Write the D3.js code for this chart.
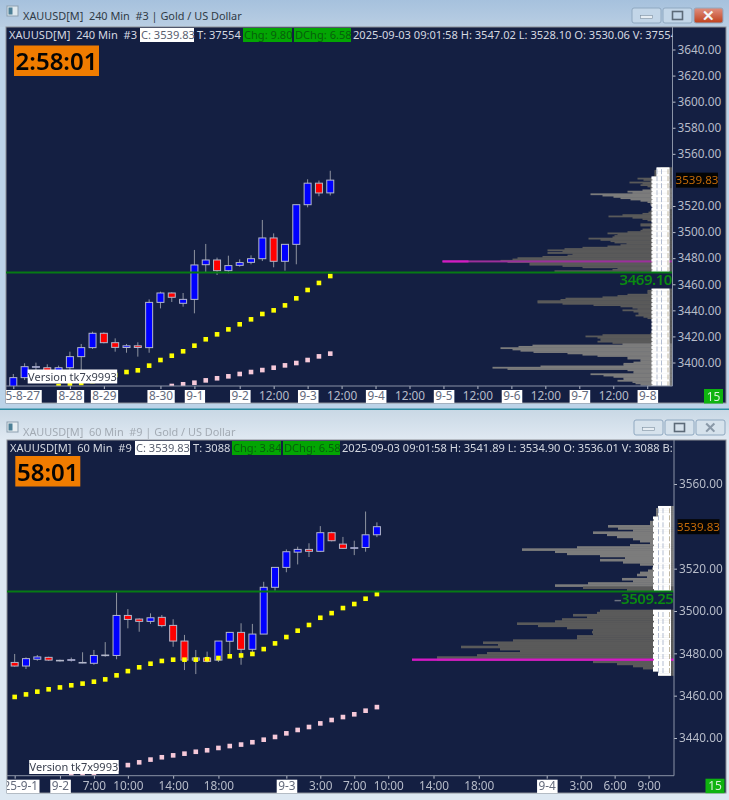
<!DOCTYPE html>
<html>
<head>
<meta charset="utf-8">
<script src="https://cdnjs.cloudflare.com/ajax/libs/d3/7.8.5/d3.min.js"></script>
<style>
html, body { margin: 0; padding: 0; background: #dde8f2; overflow: hidden; }
svg { display: block; filter: blur(0.4px); }
text { font-family: "Noto Sans", sans-serif; }
</style>
</head>
<body>
<svg id="chart" width="729" height="800"></svg>
<script>
// 240 min pane
var topOpen  = [3376,3388.4,3396.6,3396,3390,3396,3404.5,3411.4,3422.4,3415.2,3411.5,3412.8,3411.4,3446.1,3453.3,3445.4,3448.4,3475,3478.6,3470.4,3474.5,3476.8,3479.6,3495.5,3477.6,3490.6,3521,3537.5,3530.06];
var topHigh  = [3391.2,3399.4,3399.9,3398.6,3397.6,3408.3,3414.2,3423.6,3423.1,3418.5,3414.2,3415.5,3448.4,3454.3,3453.8,3453.3,3486.3,3490.9,3480.4,3481.9,3479.1,3482.2,3509.3,3499,3490.6,3521,3540.5,3539.5,3547.02];
var topLow   = [3372,3386.6,3393.7,3392,3388,3388,3394,3410.4,3414.7,3408.3,3407.5,3404.5,3407.5,3441.5,3446.4,3442.8,3437.7,3468.9,3467.1,3468.4,3473.5,3475.3,3477.8,3473,3470.4,3475.3,3519,3527.5,3528.1];
var topClose = [3388.4,3396.8,3396.8,3393,3396,3404.5,3411.4,3422.4,3415.2,3411.6,3412.8,3411.5,3446.1,3453.3,3450,3448.4,3474.8,3478.6,3470.4,3474.3,3476.6,3479.6,3495.5,3477.6,3490.6,3521,3537.5,3530,3539.83];

var topYellowIdx = d3.range(4, 29);
var topYellow = [3382,3383.3,3384.3,3385.8,3388.4,3390.4,3392.7,3394,3397.6,3401.9,3405.2,3408.6,3412.9,3417.8,3421.6,3425.4,3429.3,3433.1,3437.2,3440,3443.8,3449.2,3455.6,3461,3466.3];
var topPinkIdx = d3.range(14, 29);
var topPink = [3382,3383.3,3384.5,3386.3,3387.9,3389.4,3391.2,3392.7,3394.2,3396,3397.8,3399.6,3401.9,3404.7,3406.8];

var topYTicks = [3640,3620,3600,3580,3560,3520,3500,3480,3460,3440,3420,3400];
var topXIdx = [0,5,8,13,16,20,23,26,29,32,35,38,41,44,47,50,53,56];
var topXLabels = ["25-8-27","8-28","8-29","8-30","9-1","9-2","12:00","9-3","12:00","9-4","12:00","9-5","12:00","9-6","12:00","9-7","12:00","9-8"];

var topProfileUpper = [12,16,18,18,18,18,18,20,
  35,29,22,43,30,32,25,22,22,30,
  45,40,82,70,59,52,42,32,25,22,
  22,20,20,20,20,22,24,30,50,64,
  40,30,25,20,20,32,32,22,22,30,
  32,45,65,55,58,60,84,72,62,58,
  46,52,65,90,108,125,110,125,100,105,
  130,155,160,172,165,143,143,110,90,55,
  60,118];
var topProfileLower = [20,25,25,25,45,55,70,107,112,135,135,110,79,52,40,35,50,39,34,34,37,29,25,20,
  20,20,20,20,20,20,20,20,20,20,22,70,87,75,72,72,75,60,50,
  140,154,172,160,152,139,105,90,75,45,45,32,32,39,49,49,132,180,165,45,39,39,82,69,59,49,49,55,40,37,32,25];

// 60 min pane
var botOpen  = [3475.7,3474,3477.2,3478.1,3476.7,3476.7,3475.6,3475.3,3479,3479,3497.9,3496.2,3495.1,3497,3493.2,3485.8,3476.8,3477.8,3476.8,3485.7,3489.9,3481.9,3489.1,3511.2,3520.6,3527.8,3529.1,3528.2,3537,3531.6,3529.9,3530,3536.01];
var botHigh  = [3479.7,3478.1,3479.2,3478.4,3477,3478,3480.5,3481.6,3485.3,3508.7,3500.9,3496.5,3498.9,3498.1,3496.1,3488.7,3481.6,3480.8,3485.8,3489.9,3494.2,3493.9,3513.8,3520.6,3529.1,3530.4,3532,3540.1,3537.5,3535,3533.2,3547,3541.89];
var botLow   = [3473.7,3472.6,3476.5,3476.4,3476.1,3476.1,3475.3,3474.6,3478.4,3477.2,3491.8,3490.2,3493.9,3492.3,3483.1,3472.1,3470.2,3475.7,3475.9,3479.2,3474.6,3479.2,3489.1,3509.6,3518.3,3522,3525.5,3527.9,3532.9,3529.3,3526.4,3528,3534.9];
var botClose = [3474,3477.5,3478.3,3476.8,3476.6,3477,3475.7,3479,3479.2,3497.9,3496,3495.1,3496.8,3493.1,3485.8,3476.8,3477.8,3476.2,3485.8,3489.9,3481.9,3489.1,3511.2,3520.6,3528,3529.1,3528.2,3537,3533.2,3529.6,3529.9,3536,3539.83];

var botYellowIdx = d3.range(0, 33);
var botYellow = [3459.4,3460.6,3461.9,3463,3463.9,3464.9,3465.7,3466.6,3467.7,3469.6,3471.6,3473.4,3475.1,3476.4,3477,3477,3477,3477.2,3477.8,3478.6,3479,3479.7,3482,3484.7,3487.7,3490.7,3493.4,3496.8,3499,3501.4,3503.3,3505.8,3508];
var botPinkIdx = d3.range(5, 33);
var botPink = [3422.8,3422.8,3423.3,3424.4,3425.5,3427.2,3428.5,3429.8,3430.9,3431.8,3432.6,3433.5,3434.2,3435.3,3436.2,3436.9,3438,3439.2,3440.5,3442.2,3443.8,3445.2,3446.9,3448.5,3449.9,3451.2,3452.9,3454.6];

var botYTicks = [3560,3520,3500,3480,3460,3440];
var botXIdx = [0,4,7,10,14,18,24,27,30,33,37,41,47,50,53,56];
var botXLabels = ["25-9-1","9-2","7:00","10:00","14:00","18:00","9-3","3:00","7:00","10:00","14:00","18:00","9-4","3:00","6:00","9:00"];

var botProfileUpper = [15,18,18,18,18,21,21,24,24,66,56,41,81,67,57,41,34,24,44,97,152,119,107,74,49,74,51,34,21,22,26,34,37,27,52,41,86,119,91,47];
var botProfileLower = [74,77,101,87,112,119,157,136,107,81,82,81,97,97,161,191,176,213,174,154,187,197,237,237,81,57,41,31,21,16,14];

var svg = d3.select("#chart");
var defs = svg.append("defs");

function gradient(id, c1, c2) {
  var g = defs.append("linearGradient").attr("id", id).attr("x1", 0).attr("y1", 0).attr("x2", 0).attr("y2", 1);
  g.append("stop").attr("offset", "0%").attr("stop-color", c1);
  g.append("stop").attr("offset", "100%").attr("stop-color", c2);
}
gradient("activeBar", "#a6c1dd", "#b9cee3");
gradient("idleBar", "#c9d8e5", "#e0e9f2");
gradient("closeRed", "#e09080", "#c0401c");

function drawPane(p) {
  var g = svg.append("g");

  // window frame and title bar
  g.append("rect").attr("x", 0).attr("y", p.winTop).attr("width", 729).attr("height", p.winBottom - p.winTop).attr("fill", p.frame);
  g.append("rect").attr("x", 0).attr("y", p.winTop).attr("width", 729).attr("height", p.panel.top - p.winTop).attr("fill", "url(#" + p.barFill + ")");
  g.append("rect").attr("x", p.panel.left).attr("y", p.panel.top).attr("width", p.panel.right - p.panel.left).attr("height", p.panel.bottom - p.panel.top)
    .attr("fill", "#141f42").attr("stroke", "#8b8f96");
  g.append("rect").attr("x", 7).attr("y", p.titleY - 6).attr("width", 11).attr("height", 10).attr("fill", p.iconFill).attr("stroke", "#8da0b0");
  g.append("rect").attr("x", 8.5).attr("y", p.titleY - 4.5).attr("width", 4).attr("height", 7).attr("fill", "#4c7f96");
  g.append("text").attr("x", 23).attr("y", p.titleY + 8).attr("font-size", 10.9).attr("fill", p.titleColor).attr("xml:space", "preserve").text(p.title);

  p.buttons.forEach(function(b, i) {
    g.append("rect").attr("x", b).attr("y", p.winTop + p.btnTop).attr("width", 29).attr("height", 15).attr("rx", 2)
      .attr("fill", i == 2 && p.active ? "url(#closeRed)" : p.btnFill).attr("stroke", "#8fa8c0");
    var cx = b + 14.5, cy = p.winTop + p.btnTop + 7.5;
    if (i == 0) g.append("rect").attr("x", cx - 6).attr("y", cy + 0).attr("width", 12).attr("height", 3).attr("fill", "#e6edf3").attr("stroke", "#7d8fa0").attr("stroke-width", 0.6);
    if (i == 1) g.append("rect").attr("x", cx - 5).attr("y", cy - 4).attr("width", 10).attr("height", 8).attr("fill", "none").attr("stroke", "#5c6a78").attr("stroke-width", 1.6);
    if (i == 2) g.append("text").attr("x", cx).attr("y", cy + 5).attr("text-anchor", "middle").attr("font-size", 15).attr("font-weight", 700).attr("fill", p.active ? "#f4f6f8" : "#8a99a8").text("✕");
  });

  var y = d3.scaleLinear().domain(p.yDomain).range(p.yRange);
  var x = d3.scaleLinear().domain([0, 1]).range([p.x0, p.x0 + p.step]);

  var clipId = p.id + "Clip";
  defs.append("clipPath").attr("id", clipId).append("rect")
    .attr("x", p.panel.left).attr("y", p.panel.top).attr("width", p.plotRight - p.panel.left).attr("height", p.plotBottom - p.panel.top);
  var plot = g.append("g").attr("clip-path", "url(#" + clipId + ")");

  // volume profile, one row per dollar
  var rows = [];
  p.profile.forEach(function(seg) {
    seg.vols.forEach(function(v, i) { rows.push({ price: seg.start - i, vol: v }); });
  });
  var rowH = Math.abs(y(0) - y(1)) + 0.5;
  var isLight = function(price) {
    return p.lightBands.some(function(b) { return price >= b[0] && price <= b[1]; });
  };
  plot.selectAll("rect.bin").data(rows).enter().append("rect").attr("class", "bin")
    .attr("x", function(d) { return p.plotRight - d.vol; })
    .attr("y", function(d) { return y(d.price) - rowH / 2; })
    .attr("width", function(d) { return d.vol; })
    .attr("height", rowH)
    .attr("fill", function(d) { return isLight(d.price) ? "#7c7c7c" : "#5a5a5a"; });

  // POC bar over the profile
  plot.append("rect").attr("x", p.plotRight - p.pocVol).attr("y", y(p.pocPrice) - 1).attr("width", p.pocVol).attr("height", 2).attr("fill", p.pocDim);
  plot.append("rect").attr("x", p.plotRight - p.pocVol).attr("y", y(p.pocPrice) - 1).attr("width", p.pocBright).attr("height", 2).attr("fill", "#d41ac4");

  // white bid/ask column
  plot.selectAll("rect.cell").data(rows).enter().append("rect").attr("class", "cell")
    .attr("x", function(d, i) { return p.plotRight - (d.vol < 20 ? 16 : 21 - (i % 3 == 0 ? 1 : 0)); })
    .attr("y", function(d) { return y(d.price) - rowH / 2; })
    .attr("width", function(d, i) { return (d.vol < 20 ? 13 : 18 - (i % 3 == 0 ? 1 : 0)); })
    .attr("height", rowH)
    .attr("fill", "#ffffff");
  [15.5, 11, 4.5].forEach(function(off, k) {
    p.profile.forEach(function(seg) {
      plot.append("line")
        .attr("x1", p.plotRight - off).attr("x2", p.plotRight - off)
        .attr("y1", y(seg.start) + 1).attr("y2", y(seg.start - seg.vols.length + 1))
        .attr("stroke", k == 2 ? "#b8ae96" : "#aab6cc").attr("stroke-width", 0.9)
        .attr("stroke-dasharray", "5 2");
    });
  });

  // wicks, bodies
  var bars = p.open.map(function(o, i) { return { i: i, o: o, h: p.high[i], l: p.low[i], c: p.close[i] }; });
  plot.selectAll("line.wick").data(bars).enter().append("line").attr("class", "wick")
    .attr("x1", function(d) { return x(d.i); }).attr("x2", function(d) { return x(d.i); })
    .attr("y1", function(d) { return y(d.h); }).attr("y2", function(d) { return y(d.l); })
    .attr("stroke", "#8e939f").attr("stroke-width", 1);
  plot.selectAll("rect.body").data(bars).enter().append("rect").attr("class", "body")
    .attr("x", function(d) { return x(d.i) - 3.5; })
    .attr("y", function(d) { return y(Math.max(d.o, d.c)); })
    .attr("width", 7)
    .attr("height", function(d) { return Math.max(0.6, Math.abs(y(d.o) - y(d.c))); })
    .attr("fill", function(d) { return d.c >= d.o ? "#0000ff" : "#ff0000"; })
    .attr("stroke", "#b4b8cb").attr("stroke-width", 1);

  // moving average dots
  function dots(idx, vals, color) {
    plot.selectAll(null).data(vals).enter().append("rect")
      .attr("x", function(d, i) { return x(idx[i]) - 2.3; })
      .attr("y", function(d) { return y(d) - 2.3; })
      .attr("width", 4.6).attr("height", 4.6).attr("fill", color);
  }
  dots(p.yellowIdx, p.yellow, "#ffff00");
  dots(p.pinkIdx, p.pink, "#f6c9d9");

  // green level line
  plot.append("line").attr("x1", p.panel.left).attr("x2", p.plotRight)
    .attr("y1", y(p.level)).attr("y2", y(p.level)).attr("stroke", "#067a14").attr("stroke-width", 2);

  // axes
  var yAxis = d3.axisRight(y).tickValues(p.yTicks).tickSize(3).tickPadding(2).tickFormat(d3.format(".2f"));
  var yg = g.append("g").attr("transform", "translate(" + p.plotRight + ",0)").call(yAxis);
  yg.select(".domain").remove();
  g.append("line").attr("x1", p.plotRight).attr("x2", p.plotRight).attr("y1", p.panel.top).attr("y2", p.plotBottom).attr("stroke", "#8a93a6");
  yg.selectAll("text").attr("font-size", 11.8).attr("fill", "#b7bcc9").style("font-family", '"Noto Sans", sans-serif');
  yg.selectAll("line").attr("stroke", "#b7bcc9");

  var labelFor = {};
  p.xIdx.forEach(function(d, i) { labelFor[d] = p.xLabels[i]; });
  var xAxis = d3.axisBottom(x).tickValues(p.xIdx).tickSize(3).tickPadding(3).tickFormat(function(d) { return labelFor[d]; });
  defs.append("clipPath").attr("id", clipId + "X").append("rect")
    .attr("x", p.panel.left).attr("y", p.plotBottom).attr("width", p.panel.right - p.panel.left).attr("height", p.panel.bottom - p.plotBottom);
  var xg = g.append("g").attr("clip-path", "url(#" + clipId + "X)")
    .append("g").attr("transform", "translate(0," + p.plotBottom + ")").call(xAxis);
  xg.select(".domain").remove();
  g.append("line").attr("x1", p.panel.left).attr("x2", p.plotRight).attr("y1", p.plotBottom).attr("y2", p.plotBottom).attr("stroke", "#8a93a6");
  xg.selectAll("line").attr("stroke", "#b7bcc9");
  xg.selectAll(".tick").each(function(d, i) {
    var t = d3.select(this);
    var label = t.select("text");
    label.attr("font-size", 11.8).style("font-family", '"Noto Sans", sans-serif');
    var isDate = labelFor[d].indexOf("-") > 0;
    label.attr("fill", isDate ? "#646b7c" : "#b7bcc9");
    if (i == 0) {
      label.attr("text-anchor", "end").attr("x", p.firstLabelRight - x(d));
    }
    if (isDate) {
      var b = label.node().getBBox();
      t.insert("rect", "text").attr("x", b.x - 1.5).attr("y", 4).attr("width", b.width + 3).attr("height", 16).attr("fill", "#ffffff");
    }
  });

  // header row
  var hdr = g.append("g").attr("font-size", 11.1);
  defs.append("clipPath").attr("id", clipId + "H").append("rect")
    .attr("x", p.panel.left).attr("y", p.panel.top).attr("width", p.plotRight - p.panel.left).attr("height", 20);
  hdr.attr("clip-path", "url(#" + clipId + "H)");
  p.header.forEach(function(h) {
    if (h.box) {
      hdr.append("rect").attr("x", h.x - 1).attr("y", p.headerY - 7).attr("width", h.w).attr("height", 14).attr("fill", h.box);
    }
    hdr.append("text").attr("x", h.x).attr("y", p.headerY + 4).attr("fill", h.color).attr("xml:space", "preserve").text(h.text);
  });

  // countdown
  g.append("rect").attr("x", p.timer.x).attr("y", p.timer.y).attr("width", p.timer.w).attr("height", 30.5).attr("fill", "#f07c00");
  g.append("text").attr("x", p.timer.x + p.timer.w / 2).attr("y", p.timer.y + 24.5).attr("text-anchor", "middle")
    .attr("font-size", 24).attr("font-weight", 600).attr("fill", "#050505").text(p.timer.text);

  // version box
  g.append("rect").attr("x", p.version.x).attr("y", p.version.y).attr("width", 89.5).attr("height", 14).attr("fill", "#ffffff");
  g.append("text").attr("x", p.version.x + 44.7).attr("y", p.version.y + 11).attr("text-anchor", "middle")
    .attr("font-size", 11).attr("fill", "#3c4250").text("Version tk7x9993");

  // last price tag
  g.append("rect").attr("x", p.plotRight + 3.5).attr("y", y(p.last) - 7.5).attr("width", 42).attr("height", 15).attr("fill", "#040404");
  g.append("text").attr("x", p.plotRight + 24.5).attr("y", y(p.last) + 4.3).attr("text-anchor", "middle")
    .attr("font-size", 11.6).attr("fill", "#c46a08").text(d3.format(".2f")(p.last));

  // level label
  var lv = g.append("text").attr("x", p.plotRight - 0.5).attr("y", y(p.level) + p.levelDy).attr("text-anchor", "end")
    .attr("font-size", 15).attr("font-weight", 600).attr("letter-spacing", -0.45).attr("fill", "#0a8a12");
  if (p.levelDash) lv.append("tspan").attr("fill", "#6c7280").text("–");
  lv.append("tspan").text(d3.format(".2f")(p.level));

  // green corner box
  g.append("rect").attr("x", p.plotRight + 31.5).attr("y", p.plotBottom + 3).attr("width", 19).attr("height", 14.5).attr("fill", "#0fb30f");
  g.append("text").attr("x", p.plotRight + 41).attr("y", p.plotBottom + 14.5).attr("text-anchor", "middle")
    .attr("font-size", 12).attr("fill", "#d8f0d8").text("15");
}

drawPane({
  id: "top", active: true, winTop: 0, winBottom: 409, frame: "#bcd3e8", barFill: "activeBar", iconFill: "#dfe9ef",
  titleY: 12, titleColor: "#2f3a46", title: "XAUUSD[M]  240 Min  #3 | Gold / US Dollar",
  buttons: [632, 663, 694], btnTop: 8, btnFill: "#c3d6e8",
  panel: { left: 6, top: 27, right: 726, bottom: 403 },
  plotRight: 672.5, plotBottom: 386,
  yDomain: [3400, 3640], yRange: [362.5, 49.5], x0: 13.3, step: 11.32,
  open: topOpen, high: topHigh, low: topLow, close: topClose,
  yellowIdx: topYellowIdx, yellow: topYellow, pinkIdx: topPinkIdx, pink: topPink,
  yTicks: topYTicks, xIdx: topXIdx, xLabels: topXLabels, firstLabelRight: 39.5,
  profile: [{ start: 3549, vols: topProfileUpper }, { start: 3456, vols: topProfileLower }],
  lightBands: [[3518, 3533], [3382, 3414]],
  pocPrice: 3477.5, pocVol: 230, pocBright: 26, pocDim: "#9c2f9c",
  level: 3469.10, levelDy: 13, levelDash: false, last: 3539.83,
  headerY: 35,
  header: [
    { x: 9, text: "XAUUSD[M]  240 Min  #3", color: "#d4d8e0" },
    { x: 141, text: "C: 3539.83", color: "#5a6070", box: "#ffffff", w: 54 },
    { x: 197, text: "T: 37554", color: "#d4d8e0" },
    { x: 244, text: "Chg: 9.80", color: "#075f0c", box: "#03a503", w: 49 },
    { x: 295, text: "DChg: 6.58", color: "#075f0c", box: "#03a503", w: 57 },
    { x: 353, text: "2025-09-03 09:01:58 H: 3547.02 L: 3528.10 O: 3530.06 V: 37554", color: "#d4d8e0" }
  ],
  timer: { x: 14, y: 45.5, w: 85, text: "2:58:01" },
  version: { x: 27.7, y: 369.5 }
});

drawPane({
  id: "bot", active: false, winTop: 410, winBottom: 800, frame: "#dde8f2", barFill: "idleBar", iconFill: "#e8eef2",
  titleY: 428, titleColor: "#a3abb4", title: "XAUUSD[M]  60 Min  #9 | Gold / US Dollar",
  buttons: [634, 665, 696], btnTop: 10, btnFill: "#d6e2ec",
  panel: { left: 7, top: 440, right: 726, bottom: 793 },
  plotRight: 674, plotBottom: 775.7,
  yDomain: [3440, 3560], yRange: [738, 484], x0: 14.67, step: 11.32,
  open: botOpen, high: botHigh, low: botLow, close: botClose,
  yellowIdx: botYellowIdx, yellow: botYellow, pinkIdx: botPinkIdx, pink: botPink,
  yTicks: botYTicks, xIdx: botXIdx, xLabels: botXLabels, firstLabelRight: 37.5,
  profile: [{ start: 3549, vols: botProfileUpper }, { start: 3500, vols: botProfileLower }],
  lightBands: [[3512, 3549]],
  pocPrice: 3477, pocVol: 262, pocBright: 262, pocDim: "#c018b8",
  level: 3509.25, levelDy: 13, levelDash: true, last: 3539.83,
  headerY: 448,
  header: [
    { x: 10, text: "XAUUSD[M]  60 Min  #9", color: "#d4d8e0" },
    { x: 136, text: "C: 3539.83", color: "#5a6070", box: "#ffffff", w: 55 },
    { x: 193, text: "T: 3088", color: "#d4d8e0" },
    { x: 233, text: "Chg: 3.84", color: "#075f0c", box: "#03a503", w: 49 },
    { x: 284, text: "DChg: 6.58", color: "#075f0c", box: "#03a503", w: 57 },
    { x: 342, text: "2025-09-03 09:01:58 H: 3541.89 L: 3534.90 O: 3536.01 V: 3088 B:", color: "#d4d8e0" }
  ],
  timer: { x: 15.3, y: 456, w: 65, text: "58:01" },
  version: { x: 29.2, y: 760 }
});

// bottom window top edge
svg.append("rect").attr("x", 0).attr("y", 408.5).attr("width", 729).attr("height", 1.5).attr("fill", "#2f8ea3");
</script>
</body>
</html>
